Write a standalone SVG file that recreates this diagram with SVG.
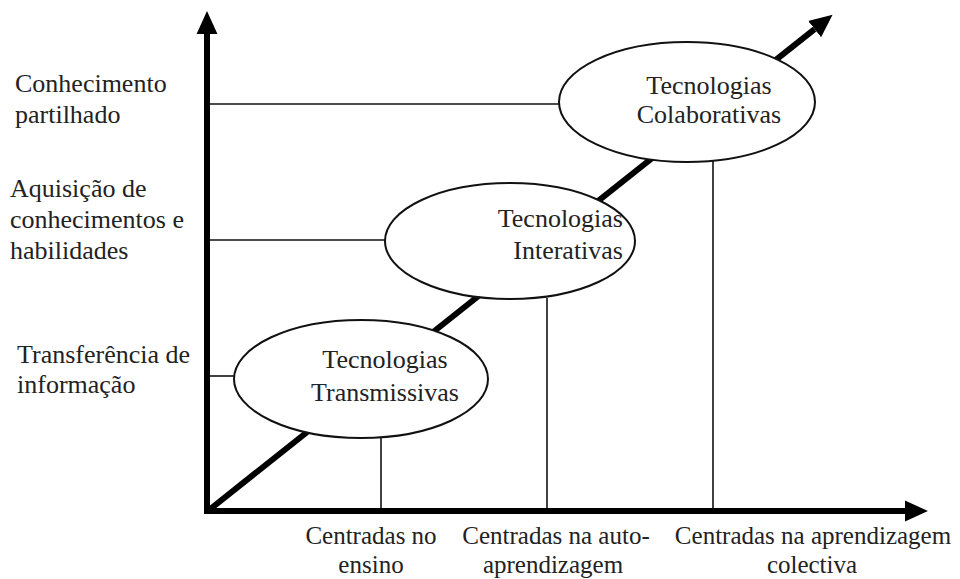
<svg xmlns="http://www.w3.org/2000/svg" width="960" height="579" viewBox="0 0 960 579">
<style>
text{font-family:"Liberation Serif","Times New Roman",serif;font-size:26px;fill:#222}
.b{font-size:25px}
.e{fill:#fff;stroke:#111;stroke-width:2}
.t{stroke:#111;stroke-width:1.6;fill:none}
.ax{stroke:#000;stroke-width:6;fill:none}
</style>
<defs>
<marker id="ah" markerUnits="userSpaceOnUse" markerWidth="24" markerHeight="24" viewBox="0 -11 23 22" refX="0" refY="0" orient="auto">
<path d="M0,-10 L22,0 L0,10 z" fill="#000"/>
</marker>
</defs>
<rect width="960" height="579" fill="#fff"/>
<g id="connectors">
<line class="ax" x1="209" y1="510" x2="814.6" y2="29.1" marker-end="url(#ah)"/>
<line class="t" x1="208" y1="104" x2="559" y2="104"/>
<line class="t" x1="208" y1="240" x2="386" y2="240"/>
<line class="t" x1="208" y1="376" x2="235" y2="376"/>
<line class="t" x1="381" y1="437" x2="381" y2="511"/>
<line class="t" x1="547" y1="298" x2="547" y2="511"/>
<line class="t" x1="713" y1="161" x2="713" y2="511"/>
</g>
<g id="axes">
<line class="ax" x1="207" y1="514" x2="207" y2="34" marker-end="url(#ah)"/>
<line class="ax" x1="204" y1="511" x2="905" y2="511" marker-end="url(#ah)"/>
</g>
<g id="transmissivas">
<ellipse class="e" cx="361" cy="379" rx="127" ry="59"/>
<text x="385" y="368" text-anchor="middle">Tecnologias</text>
<text x="385" y="401" text-anchor="middle">Transmissivas</text>
</g>
<g id="interativas">
<ellipse class="e" cx="510" cy="241" rx="125" ry="58"/>
<text x="623" y="227" text-anchor="end">Tecnologias</text>
<text x="623" y="259" text-anchor="end">Interativas</text>
</g>
<g id="colaborativas">
<ellipse class="e" cx="687" cy="102" rx="128" ry="60"/>
<text x="709" y="94" text-anchor="middle">Tecnologias</text>
<text x="709" y="123" text-anchor="middle">Colaborativas</text>
</g>
<g id="y-labels">
<text x="15" y="92">Conhecimento</text>
<text x="15" y="123">partilhado</text>
<text x="10" y="197">Aquisição de</text>
<text x="10" y="228">conhecimentos e</text>
<text x="10" y="259">habilidades</text>
<text x="17" y="363">Transferência de</text>
<text x="17" y="393">informação</text>
</g>
<g id="x-labels">
<text class="b" x="371" y="544" text-anchor="middle">Centradas no</text>
<text class="b" x="371" y="573" text-anchor="middle">ensino</text>
<text class="b" x="556" y="544" text-anchor="middle">Centradas na auto-</text>
<text class="b" x="553" y="573" text-anchor="middle">aprendizagem</text>
<text class="b" x="813" y="544" text-anchor="middle">Centradas na aprendizagem</text>
<text class="b" x="812" y="573" text-anchor="middle">colectiva</text>
</g>
</svg>
